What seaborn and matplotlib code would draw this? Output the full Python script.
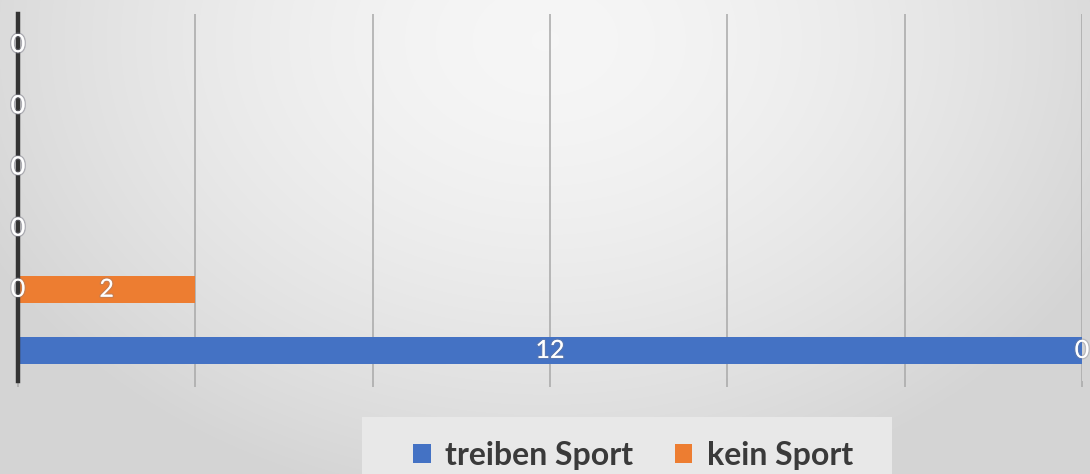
import numpy as np
import pandas as pd
import seaborn as sns
import matplotlib
matplotlib.use("Agg")
import matplotlib.pyplot as plt
from matplotlib.patches import Rectangle, Patch
import matplotlib.patheffects as pe

# Rows of the stacked bar chart, listed top to bottom
rows = ["1", "2", "3", "4", "5", "6"]
treiben_sport = [0, 0, 0, 0, 0, 12]
kein_sport = [0, 0, 0, 0, 2, 0]
series_names = ["treiben Sport", "kein Sport"]
x_ticks = [0, 2, 4, 6, 8, 10, 12]

BLUE = "#4472C4"
ORANGE = "#ED7D31"

sns.set_theme(style="white")
plt.rcParams["font.family"] = ["Lato", "DejaVu Sans"]

W, H = 1090, 474
fig = plt.figure(figsize=(W / 100, H / 100), dpi=100)

# Soft radial grey background, brightest near the top centre
bg = fig.add_axes([0, 0, 1, 1], zorder=-10)
yy, xx = np.mgrid[0:H, 0:W]
r = np.sqrt(((xx - 545) / 620.0) ** 2 + ((yy - 40) / 470.0) ** 2)
r = np.clip(r, 0, 1)
shade = 0.965 - (0.965 - 0.835) * r ** 1.6
bg.imshow(np.dstack([shade] * 3), extent=[0, W, H, 0], aspect="auto")
bg.set_xlim(0, W)
bg.set_ylim(H, 0)
bg.axis("off")
# lighter panel behind the legend
bg.add_patch(Rectangle((362, 417), 530, 60, facecolor="#e8e8e8", edgecolor="none"))

# Plot area
left, right = 18 / W, 1082 / W
top, bottom = 1 - 14 / H, 1 - 381 / H
ax = fig.add_axes([left, bottom, right - left, top - bottom])
ax.patch.set_alpha(0)

df = pd.DataFrame({"row": rows, "treiben": treiben_sport, "kein": kein_sport})
df["total"] = df["treiben"] + df["kein"]

# stacked bars: totals in orange underneath, first series in blue on top
sns.barplot(data=df, y="row", x="total", color=ORANGE, width=0.44, saturation=1,
            errorbar=None, orient="h", ax=ax, zorder=3, linewidth=0, edgecolor="none")
sns.barplot(data=df, y="row", x="treiben", color=BLUE, width=0.44, saturation=1,
            errorbar=None, orient="h", ax=ax, zorder=3, linewidth=0, edgecolor="none")

ax.set_xlim(0, 12)
ax.set_ylim(5.5, -0.5)
ax.set_xticks(x_ticks)
ax.set_xticklabels([])
ax.set_yticks([])
ax.set_xlabel("")
ax.set_ylabel("")
ax.set_axisbelow(True)
ax.grid(axis="x", color="#a8a8a8", lw=1.1)
ax.grid(axis="y", visible=False)
ax.tick_params(axis="x", direction="out", length=4, width=1.1, color="#a8a8a8", bottom=True)

for side in ["top", "right", "bottom"]:
    ax.spines[side].set_visible(False)
ax.spines["left"].set_color("#333333")
ax.spines["left"].set_linewidth(3.2)
ax.spines["left"].set_zorder(4)

# value labels
glow = [pe.withStroke(linewidth=2.0, foreground=(0.5, 0.5, 0.55, 0.3))]
for i in range(len(rows)):
    b = treiben_sport[i]
    k = kein_sport[i]
    ax.text(b / 2, i, f"{b}", color="white", fontsize=18, ha="center", va="center",
            zorder=6, path_effects=glow, clip_on=False)
    ax.text(b + k / 2, i, f"{k}", color="white", fontsize=18, ha="center", va="center",
            zorder=7, path_effects=glow, clip_on=False)

handles = [Patch(facecolor=BLUE, edgecolor="none"), Patch(facecolor=ORANGE, edgecolor="none")]
fig.legend(handles, series_names, loc="center", bbox_to_anchor=(633 / W, 1 - 455 / H),
           ncol=2, frameon=False, handlelength=0.55, handleheight=0.55,
           handletextpad=0.45, columnspacing=1.3, labelcolor="#3a3a3a",
           prop={"weight": "bold", "size": 23})

fig.savefig("out.png", dpi=100)
